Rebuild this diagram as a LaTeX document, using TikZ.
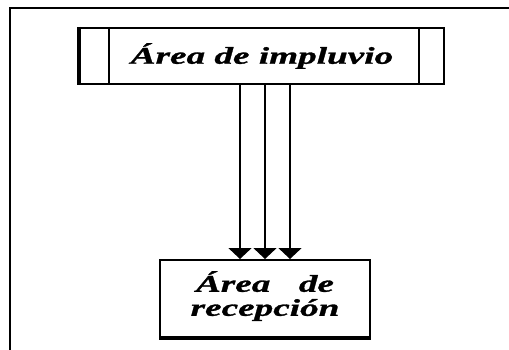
\documentclass[tikz,border=0pt]{standalone}
\usepackage{fontspec}
\newfontfamily\rotulo[FakeStretch=1.55,FakeBold=1.2]{Liberation Serif}
\usetikzlibrary{positioning,arrows.meta,calc}

\begin{document}
\begin{tikzpicture}[x=1pt,y=-1pt,
  caja/.style={draw,line width=2pt,inner sep=0pt,
    font=\rotulo\bfseries\itshape\fontsize{24}{24}\selectfont},
  flecha/.style={-{Triangle[length=11pt,width=23pt]},line width=1.8pt}]

  \useasboundingbox (0,0) rectangle (509,350);
  \draw[line width=2pt] (10,350) -- (10,8) -- (509,8);

  \node[caja,minimum width=364pt,minimum height=56pt] (impl) at (262,56) {Área de impluvio};
  \node[caja,minimum width=210pt,minimum height=77pt,align=center,text depth=10pt] (recep) [below=174pt of impl,xshift=3pt] {\hbox to 138pt{Área\hfil de}\\recepción};

  \draw[line width=3.5pt] (impl.north west) -- (impl.south west);
  \draw[line width=2pt] ($(impl.north west)+(30pt,0)$) -- ($(impl.south west)+(30pt,0)$);
  \draw[line width=2pt] ($(impl.north east)+(-26pt,0)$) -- ($(impl.south east)+(-26pt,0)$);
  \draw[line width=3.5pt] (recep.south west) -- (recep.south east);

  \foreach \dx in {-25,0,25} {
    \coordinate (r) at ($(recep.north)+(\dx pt,0)$);
    \draw[flecha] (r |- impl.south) -- (r);
  }

\end{tikzpicture}
\end{document}
